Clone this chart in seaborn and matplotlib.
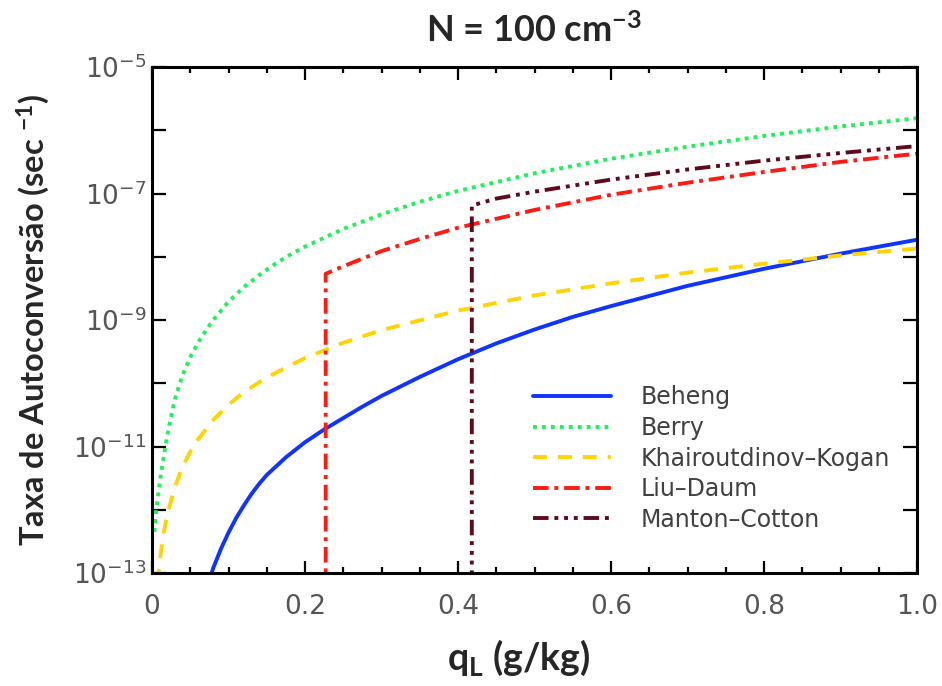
import numpy as np
import pandas as pd
import matplotlib
matplotlib.use('Agg')
import matplotlib.pyplot as plt
import seaborn as sns
from matplotlib.ticker import MultipleLocator, NullLocator

# 数据
q_beheng = [0.07, 0.08, 0.09, 0.10, 0.11, 0.12, 0.13, 0.14, 0.15, 0.175, 0.20, 0.225, 0.25, 0.275, 0.30,
            0.35, 0.40, 0.45, 0.50, 0.55, 0.60, 0.70, 0.80, 0.90, 1.00]
r_beheng = [5.0e-14, 1.20e-13, 2.40e-13, 4.37e-13, 7.41e-13, 1.17e-12, 1.78e-12, 2.57e-12, 3.55e-12, 6.76e-12,
            1.17e-11, 1.86e-11, 2.82e-11, 4.27e-11, 6.31e-11, 1.26e-10, 2.40e-10, 4.27e-10, 7.08e-10, 1.12e-9,
            1.66e-9, 3.47e-9, 6.46e-9, 1.12e-8, 1.86e-8]

q_berry = [0.003, 0.005, 0.0075, 0.01, 0.0125, 0.015, 0.02, 0.025, 0.03, 0.035, 0.04, 0.05, 0.06, 0.07, 0.08,
           0.09, 0.10, 0.12, 0.14, 0.16, 0.18, 0.20, 0.25, 0.30, 0.35, 0.40, 0.50, 0.60, 0.70, 0.80, 0.90, 1.00]
r_berry = [4.47e-13, 8.91e-13, 1.58e-12, 2.63e-12, 4.27e-12, 6.61e-12, 1.51e-11, 3.02e-11, 5.62e-11, 8.91e-11,
           1.35e-10, 2.57e-10, 4.37e-10, 6.76e-10, 1.0e-9, 1.41e-9, 1.95e-9, 3.31e-9, 5.13e-9, 7.59e-9,
           1.07e-8, 1.45e-8, 2.75e-8, 4.68e-8, 7.41e-8, 1.10e-7, 2.09e-7, 3.55e-7, 5.50e-7, 8.13e-7,
           1.15e-6, 1.55e-6]

q_kk = [0.005, 0.0075, 0.01, 0.015, 0.02, 0.03, 0.04, 0.05, 0.06, 0.08, 0.10, 0.12, 0.15, 0.20, 0.25, 0.30,
        0.40, 0.50, 0.60, 0.70, 0.80, 0.90, 1.00]
r_kk = [2.82e-14, 7.59e-14, 1.55e-13, 4.22e-13, 8.51e-13, 2.34e-12, 4.79e-12, 8.32e-12, 1.29e-11, 2.63e-11,
        4.57e-11, 7.24e-11, 1.24e-10, 2.51e-10, 4.37e-10, 6.92e-10, 1.41e-9, 2.45e-9, 3.80e-9, 5.62e-9,
        7.76e-9, 1.05e-8, 1.35e-8]

# 阈值以下为 0（对数轴上用极小值表示）
q_liu = [0.227, 0.227, 0.25, 0.30, 0.35, 0.40, 0.50, 0.60, 0.70, 0.80, 0.90, 1.00]
r_liu = [1e-16, 5.37e-9, 7.08e-9, 1.23e-8, 1.91e-8, 2.88e-8, 5.50e-8, 9.55e-8, 1.48e-7, 2.19e-7, 3.16e-7, 4.27e-7]

q_mc = [0.418, 0.418, 0.45, 0.50, 0.60, 0.70, 0.80, 0.90, 1.00]
r_mc = [1e-16, 6.46e-8, 8.32e-8, 1.07e-7, 1.66e-7, 2.40e-7, 3.31e-7, 4.37e-7, 5.62e-7]

models = ['Beheng', 'Berry', 'Khairoutdinov\u2013Kogan', 'Liu\u2013Daum', 'Manton\u2013Cotton']
xticks = [0, 0.2, 0.4, 0.6, 0.8, 1.0]
xticklabels = ['0', '0.2', '0.4', '0.6', '0.8', '1.0']
ydecades = [-13, -12, -11, -10, -9, -8, -7, -6, -5]

df = pd.concat([
    pd.DataFrame({'q': q_beheng, 'rate': r_beheng, 'model': models[0]}),
    pd.DataFrame({'q': q_berry, 'rate': r_berry, 'model': models[1]}),
    pd.DataFrame({'q': q_kk, 'rate': r_kk, 'model': models[2]}),
    pd.DataFrame({'q': q_liu, 'rate': r_liu, 'model': models[3]}),
    pd.DataFrame({'q': q_mc, 'rate': r_mc, 'model': models[4]}),
], ignore_index=True)

sns.set_theme(style='ticks')
plt.rcParams['font.family'] = ['DejaVu Sans']

palette = {models[0]: '#1034ff', models[1]: '#1ef25a', models[2]: '#ffd400',
           models[3]: '#ff1a12', models[4]: '#5e0a1c'}
dashes = {models[0]: '', models[1]: (1, 1.3), models[2]: (3.6, 2.8),
          models[3]: (4, 1.5, 1, 1.5), models[4]: (4, 1.5, 1, 1.5, 1, 1.5, 1, 1.5)}

fig = plt.figure(figsize=(9.42, 6.86), dpi=100)
ax = fig.add_axes([0.1614, 0.1647, 0.8121, 0.7376])

sns.lineplot(data=df, x='q', y='rate', hue='model', style='model', palette=palette, dashes=dashes,
             estimator=None, sort=False, linewidth=2.8, ax=ax)

ax.set_yscale('log')
ax.set_xlim(0, 1)
ax.set_ylim(1e-13, 1e-5)

ax.set_xticks(xticks)
ax.set_xticklabels(xticklabels)
ax.xaxis.set_minor_locator(MultipleLocator(0.05))
ax.set_yticks([10.0 ** d for d in ydecades])
ax.set_yticklabels([r'$\mathregular{10^{%d}}$' % d if d % 2 else '' for d in ydecades])
ax.yaxis.set_minor_locator(NullLocator())

for s in ax.spines.values():
    s.set_linewidth(2.2)
    s.set_color('black')
ax.tick_params(which='both', direction='in', top=True, right=True, width=1.6, color='black',
               labelsize=19, labelcolor='#555555')
ax.tick_params(axis='x', which='major', length=9, pad=15)
ax.tick_params(axis='x', which='minor', length=4.5)
ax.tick_params(axis='y', which='major', length=10, pad=4)

ax.set_title(r'N = 100 cm$\mathregular{^{-3}}$', fontsize=26, fontweight='bold', family='Lato', pad=18)
ax.set_xlabel(r'q$\mathregular{_L}$ (g/kg)', fontsize=27, fontweight='bold', family='Lato', labelpad=13)
ax.xaxis.label.set_x(0.48)
ax.set_ylabel(r'Taxa de Autoconversão (sec $\mathregular{^{-1}}$)', fontsize=23.5, fontweight='bold',
              family='Lato', labelpad=15)

sns.move_legend(ax, 'upper left', bbox_to_anchor=(0.498, 0.371), title=None, frameon=False,
                fontsize=17, labelcolor='#404040', handlelength=3.3, handletextpad=1.27,
                labelspacing=0.28, borderpad=0, borderaxespad=0)
for h in ax.get_legend().legend_handles:
    h.set_linewidth(2.8)

fig.savefig('out.png', dpi=100)
